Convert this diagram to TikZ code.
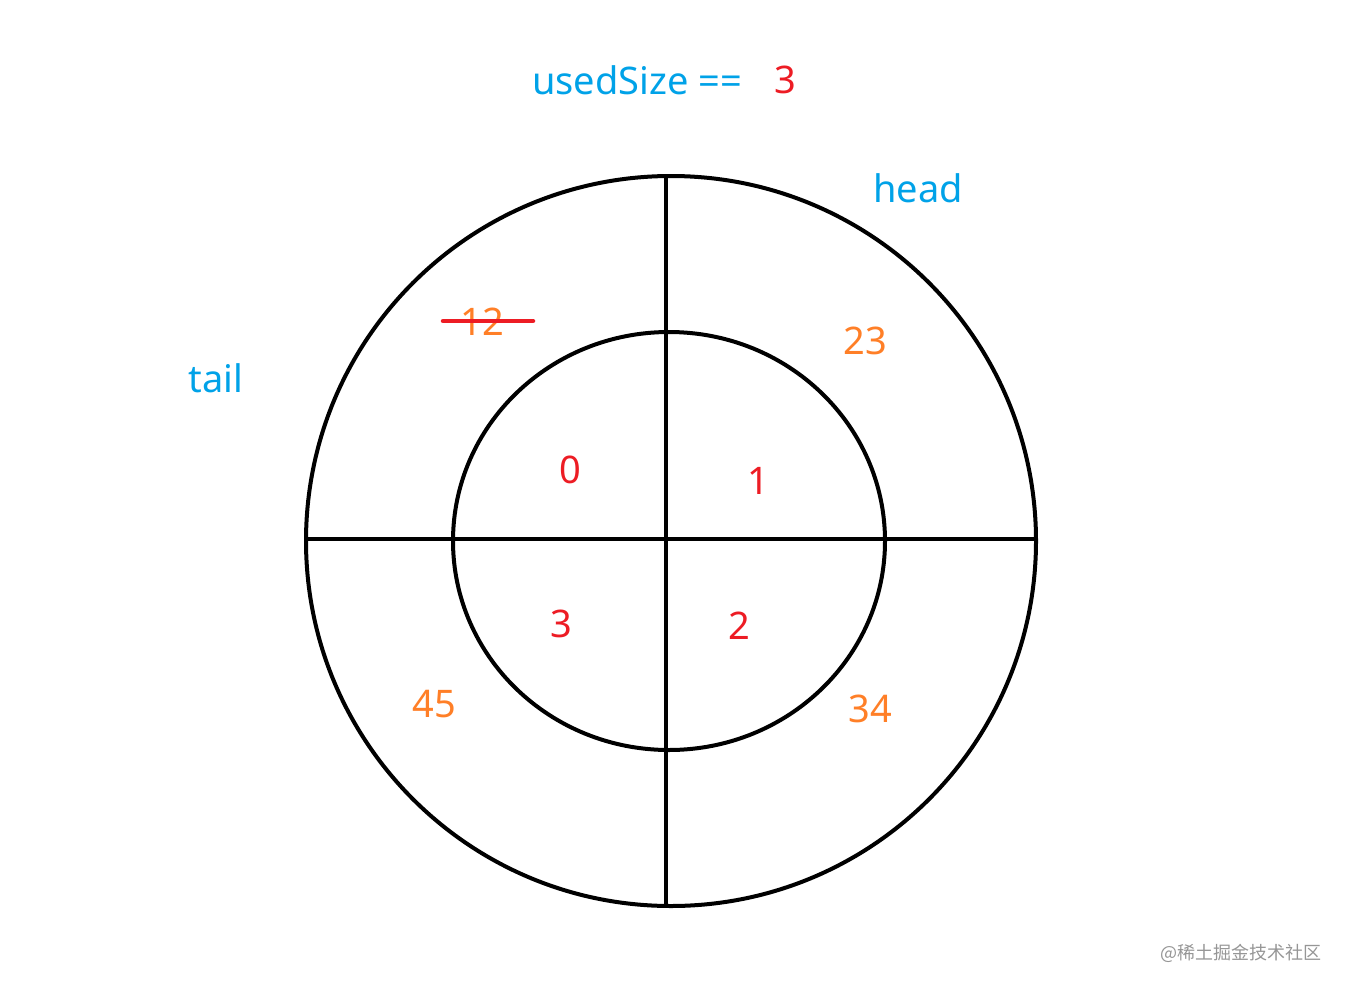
\documentclass[tikz,border=0pt]{standalone}
\usepackage{fontspec}
\setmainfont{Noto Sans}
\newfontfamily\cjkfont{Noto Sans CJK SC}
\definecolor{pblue}{RGB}{0,162,232}
\definecolor{pred}{RGB}{237,28,36}
\definecolor{porange}{RGB}{255,127,39}
\definecolor{wmgray}{RGB}{150,150,150}
\begin{document}
\begin{tikzpicture}[x=1pt,y=-1pt,
  ring/.style={draw=black,line width=4pt},
  lbl/.style={inner sep=0pt,font=\fontsize{38}{42}\selectfont},
  bluelbl/.style={lbl,text=pblue},
  redlbl/.style={lbl,text=pred},
  orangelbl/.style={lbl,text=porange}]
\useasboundingbox[fill=white] (0,0) rectangle (1348,990);
% rings
\draw[ring] (671,541) ellipse (365 and 365);
\draw[ring] (669,541) ellipse (216 and 209);
% dividers
\coordinate (vt) at (666,176);
\coordinate (vb) at (666,906);
\coordinate (hl) at (306,539);
\coordinate (hr) at (1036,539);
\draw[ring] (vt) -- (vb);
\draw[ring] (hl) -- (hr);
% labels
\node[bluelbl] (used) at (637,80) {usedSize ==};
\node[redlbl] (size) at (785,80) {3};
\node[bluelbl] (head) at (918,188) {head};
\node[bluelbl] (tail) at (216,378) {tail};
\node[orangelbl] (v12) at (482,322) {12};
\coordinate (sl) at (443,321);
\coordinate (sr) at (533,321);
\draw[draw=pred,line width=4.5pt,line cap=round] (sl) -- (sr);
\node[orangelbl] (v23) at (865,341) {23};
\node[orangelbl] (v45) at (434,704) {45};
\node[orangelbl] (v34) at (870,709) {34};
\node[redlbl] (i0) at (570,470) {0};
\node[redlbl] (i1) at (758,481) {1};
\node[redlbl] (i3) at (561,624) {3};
\node[redlbl] (i2) at (739,626) {2};
\node[inner sep=0pt,text=wmgray,font=\cjkfont\fontsize{18}{21}\selectfont] (wm) at (1241,953) {@稀土掘金技术社区};
\end{tikzpicture}
\end{document}
